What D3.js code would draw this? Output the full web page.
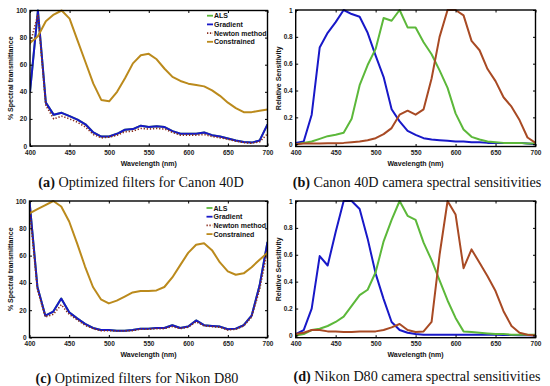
<!DOCTYPE html>
<html><head><meta charset="utf-8">
<script src="https://cdn.jsdelivr.net/npm/d3@7"></script>
<style>html,body{margin:0;padding:0;background:#fff;}svg{display:block;}</style>
</head><body><svg id="c" width="550" height="386"></svg>
<script>
const wavelengths = [400,410,420,430,440,450,460,470,480,490,500,510,520,530,540,550,560,570,580,590,600,610,620,630,640,650,660,670,680,690,700];

// (a) Canon 40D optimized filters (%)
const canonALS        = [40,100,32,23,24.5,22,19.5,16,10,7,7,9,12,12.5,15,14,14.5,14,11,9,9,9,10,8,7,5.5,4,3,2.5,4,16];
const canonGradient   = [40,100,32,23,24.5,22,19.5,16,10,7,7,9,12,12.5,15,14,14.5,14,11,9,9,9,10,8,7,5.5,4,3,2.5,4,16];
const canonNewton     = [75,97,30,20,22,20,17.5,14,8.5,6,6.5,8,10.5,11,13,12.5,13,12.5,10,8,8,8,8.5,7,6,5,3.5,2.5,2,3,9];
const canonConstrained= [76,81,92,97,100,94,78,62,46,34,33,40,50,61,67,68,64,57,51,48,46,45,44,41,37,32,28,25,25,26,27];

// (b) Canon 40D camera spectral sensitivities
const canonBlue  = [0.01,0.02,0.22,0.72,0.83,0.91,1.0,0.97,0.95,0.83,0.66,0.5,0.26,0.17,0.1,0.07,0.045,0.035,0.03,0.025,0.02,0.02,0.015,0.015,0.01,0.01,0.01,0.01,0.01,0.005,0.0];
const canonGreen = [0.0,0.01,0.02,0.04,0.06,0.07,0.085,0.19,0.44,0.59,0.71,0.94,0.92,1.0,0.87,0.87,0.76,0.67,0.55,0.42,0.23,0.11,0.055,0.035,0.02,0.015,0.01,0.01,0.01,0.005,0.005];
const canonRed   = [0.0,0.005,0.005,0.005,0.008,0.008,0.01,0.015,0.02,0.03,0.045,0.075,0.12,0.22,0.25,0.22,0.26,0.49,0.8,1.0,1.0,0.96,0.77,0.7,0.56,0.47,0.35,0.28,0.18,0.05,0.01];

// (c) Nikon D80 optimized filters (%)
const nikonALS        = [100,37,16,19,28.5,18.5,14,10,7,5.5,5.5,5,5,5.5,6.5,6.5,7,7,9,7,8,12.5,9,8.5,8,6,6.5,9,16,38,70];
const nikonGradient   = [100,37,16,19,28.5,18.5,14,10,7,5.5,5.5,5,5,5.5,6.5,6.5,7,7,9,7,8,12.5,9,8.5,8,6,6.5,9,16,38,70];
const nikonNewton     = [95,35,15,17,24,17,13,9,6.5,5,5,4.8,4.8,5,6,6,6.5,6.5,8,6.5,7.5,11.5,8.5,8,7.5,5.5,6,8.5,15,35,64];
const nikonConstrained= [91,94,97,100,96,85,69,52,37,28,25,27,30,33,34,34,34.5,37,44,53,62,68,69,64,55,48.5,46,47,51.5,57,62];

// (d) Nikon D80 camera spectral sensitivities
const nikonBlue  = [0.01,0.04,0.2,0.59,0.52,0.77,1.0,1.0,0.94,0.72,0.46,0.27,0.1,0.04,0.02,0.01,0.005,0.005,0.005,0.005,0.005,0.005,0.005,0.005,0.005,0.005,0.003,0.003,0.002,0.001,0.0];
const nikonGreen = [0.0,0.01,0.04,0.05,0.07,0.1,0.14,0.22,0.3,0.34,0.47,0.7,0.86,1.0,0.89,0.86,0.69,0.56,0.41,0.26,0.13,0.03,0.025,0.02,0.015,0.01,0.01,0.005,0.005,0.005,0.005];
const nikonRed   = [0.01,0.02,0.04,0.04,0.03,0.03,0.025,0.025,0.03,0.03,0.03,0.04,0.06,0.085,0.04,0.025,0.03,0.1,0.6,1.0,0.9,0.5,0.64,0.54,0.44,0.33,0.18,0.07,0.02,0.005,0.0];

const xTicks = [400,450,500,550,600,650,700];
const pctTicks = [0,20,40,60,80,100];
const sensTicks = [0,0.2,0.4,0.6,0.8,1];
const sensTickLabels = ["0","0.2","0.4","0.6","0.8","1"];
const legendLabels = ["ALS","Gradient","Newton method","Constrained"];
const captions = [
  {b:"(a)", t:" Optimized filters for Canon 40D"},
  {b:"(b)", t:" Canon 40D camera spectral sensitivities"},
  {b:"(c)", t:" Optimized filters for Nikon D80"},
  {b:"(d)", t:" Nikon D80 camera spectral sensitivities"}
];

const C = {green:"#5cb83a", blue:"#1818c8", newton:"#8b2c1c", gold:"#bb8a1c", red:"#a84a24"};
const svg = d3.select("#c");
const sans = "Arial, 'Liberation Sans', sans-serif";

function panel(o){
  const g = svg.append("g");
  const x = d3.scaleLinear().domain([400,700]).range([o.x0,o.x1]);
  const y = d3.scaleLinear().domain(o.ydom).range([o.y1,o.y0]);
  const tl = 2.5;
  const line = d3.line().x((d,i)=>x(wavelengths[i])).y(d=>y(d));
  const clip = "clip"+o.id;
  g.append("clipPath").attr("id",clip).append("rect").attr("x",o.x0).attr("y",o.y0-2).attr("width",o.x1-o.x0).attr("height",o.y1-o.y0+2);
  const cg = g.append("g").attr("clip-path","url(#"+clip+")");
  o.series.forEach(s=>{
    cg.append("path").datum(s.v).attr("d",line).attr("fill","none")
      .attr("stroke",s.c).attr("stroke-width",s.w||2)
      .attr("stroke-dasharray",s.dash||null).attr("stroke-linejoin","round");
  });
  const fmtY = o.ylabels ? (d,i)=>o.ylabels[i] : d3.format("d");
  const ax = d3.axisBottom(x).tickValues(xTicks).tickSize(-tl).tickPadding(4).tickFormat(d3.format("d"));
  const axT = d3.axisTop(x).tickValues(xTicks).tickSize(-tl).tickFormat("");
  const ay = d3.axisLeft(y).tickValues(o.yticks).tickSize(-tl).tickPadding(3).tickFormat(fmtY);
  const ayR = d3.axisRight(y).tickValues(o.yticks).tickSize(-tl).tickFormat("");
  [[ax,`translate(0,${o.y1})`],[axT,`translate(0,${o.y0})`],[ay,`translate(${o.x0},0)`],[ayR,`translate(${o.x1},0)`]].forEach(([a,t])=>{
    const ag = g.append("g").attr("transform",t).call(a);
    ag.select(".domain").remove();
    ag.selectAll("line").attr("stroke","#000").attr("stroke-width",1);
    ag.selectAll("text").attr("font-family",sans).attr("font-size",6.5).attr("font-weight","bold").attr("fill","#222");
  });
  g.append("rect").attr("x",o.x0).attr("y",o.y0).attr("width",o.x1-o.x0).attr("height",o.y1-o.y0)
    .attr("fill","none").attr("stroke","#000").attr("stroke-width",1.4);
  g.append("text").attr("x",(o.x0+o.x1)/2).attr("y",o.y1+19.5).attr("text-anchor","middle")
    .attr("font-family",sans).attr("font-size",7).attr("font-weight","bold").attr("fill","#111").text("Wavelength (nm)");
  g.append("text").attr("transform",`translate(${o.ylx},${(o.y0+o.y1)/2}) rotate(-90)`).attr("text-anchor","middle")
    .attr("font-family",sans).attr("font-size",7).attr("font-weight","bold").attr("fill","#111").text(o.ylab);
  if(o.legend){
    const cols=[C.green,C.blue,C.newton,C.gold];
    legendLabels.forEach((lab,i)=>{
      const ly = o.legend.y + i*8.7;
      g.append("line").attr("x1",o.legend.x).attr("x2",o.legend.x+6).attr("y1",ly).attr("y2",ly)
        .attr("stroke",cols[i]).attr("stroke-width",1.8).attr("stroke-dasharray",i===2?"1.3,1.6":null);
      g.append("text").attr("x",o.legend.x+7).attr("y",ly+2.5).attr("font-family",sans)
        .attr("font-size",7).attr("font-weight","bold").attr("fill","#111").text(lab);
    });
  }
  const cap = g.append("text").attr("x",o.capx).attr("y",o.capy).attr("text-anchor","middle")
    .attr("font-family","'Liberation Serif','DejaVu Serif',serif").attr("font-size",14.2).attr("fill","#111");
  cap.append("tspan").attr("font-weight","bold").text(o.cap.b);
  cap.append("tspan").text(o.cap.t);
}

panel({id:"a",x0:30,x1:267.5,y0:10.5,y1:146,ydom:[0,100],yticks:pctTicks,ylx:13,ylab:"% Spectral transmittance",
  legend:{x:207,y:15.7},capx:141,capy:187,cap:captions[0],
  series:[{v:canonALS,c:C.green},{v:canonGradient,c:C.blue},{v:canonNewton,c:C.newton,dash:"1.3,1.8",w:1.6},{v:canonConstrained,c:C.gold}]});
panel({id:"b",x0:295.7,x1:535.5,y0:10,y1:146.5,ydom:[-0.017,1],yticks:sensTicks,ylabels:sensTickLabels,ylx:281,ylab:"Relative Sensitivity",
  capx:417,capy:187,cap:captions[1],
  series:[{v:canonBlue,c:C.blue},{v:canonGreen,c:C.green},{v:canonRed,c:C.red}]});
panel({id:"c",x0:29.5,x1:267.5,y0:201,y1:337.5,ydom:[0,100],yticks:pctTicks,ylx:13,ylab:"% Spectral transmittance",
  legend:{x:206.5,y:208},capx:137,capy:383,cap:captions[2],
  series:[{v:nikonALS,c:C.green},{v:nikonGradient,c:C.blue},{v:nikonNewton,c:C.newton,dash:"1.3,1.8",w:1.6},{v:nikonConstrained,c:C.gold}]});
panel({id:"d",x0:295.7,x1:535.5,y0:201,y1:337.7,ydom:[-0.017,1],yticks:sensTicks,ylabels:sensTickLabels,ylx:281,ylab:"Relative Sensitivity",
  capx:417,capy:381,cap:captions[3],
  series:[{v:nikonBlue,c:C.blue},{v:nikonGreen,c:C.green},{v:nikonRed,c:C.red}]});
</script></body></html>
